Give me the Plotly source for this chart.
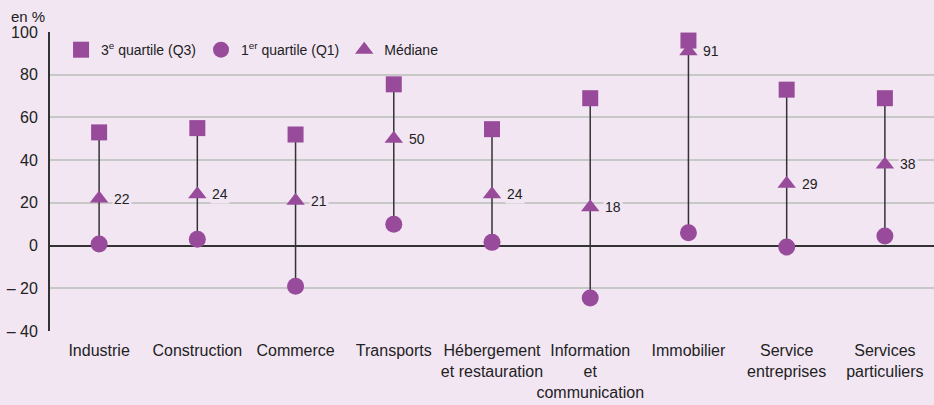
import plotly.graph_objects as go

categories = ["Industrie", "Construction", "Commerce", "Transports",
              "Hébergement<br>et restauration", "Information<br>et<br>communication",
              "Immobilier", "Service<br>entreprises", "Services<br>particuliers"]
q3 = [53, 55, 52, 75.5, 54.5, 69, 96, 73, 69]
q1 = [0.7, 3, -19, 10, 1.5, -24.5, 6, -0.7, 4.5]
median = [22, 24, 21, 50, 24, 18, 91, 29, 38]
ytick_vals = [-40, -20, 0, 20, 40, 60, 80, 100]
ytick_text = ["– 40", "– 20", "0", "20", "40", "60", "80", "100"]

BG = "#F2E6F3"
PURPLE = "#984B9B"
FONT = "Liberation Sans, Arial, sans-serif"

xs = list(range(len(categories)))

seg_x, seg_y = [], []
for i, (a, b) in enumerate(zip(q1, q3)):
    seg_x += [i, i, None]
    seg_y += [a, b, None]

fig = go.Figure()
fig.add_trace(go.Scatter(x=seg_x, y=seg_y, mode="lines",
                         line=dict(color="#333333", width=1.5),
                         showlegend=False, hoverinfo="skip"))
fig.add_trace(go.Scatter(x=xs, y=q3, mode="markers", name="3<sup>e</sup> quartile (Q3)",
                         marker=dict(symbol="square", size=16, color=PURPLE)))
fig.add_trace(go.Scatter(x=xs, y=q1, mode="markers", name="1<sup>er</sup> quartile (Q1)",
                         marker=dict(symbol="circle", size=17, color=PURPLE)))
fig.add_trace(go.Scatter(x=xs, y=median, mode="markers", name="Médiane",
                         marker=dict(symbol="triangle-up", size=16, color=PURPLE)))

for i, m in enumerate(median):
    fig.add_annotation(x=i, y=m, text=str(m), showarrow=False, xanchor="left",
                       xshift=13, bgcolor=BG, borderpad=1,
                       font=dict(family=FONT, size=14, color="#222222"))

fig.add_annotation(xref="paper", yref="paper", x=0, y=1.0, xshift=-41, yshift=16,
                   text="en %", showarrow=False, xanchor="left", yanchor="middle",
                   font=dict(family=FONT, size=15, color="#222222"))

fig.update_layout(
    width=934, height=405,
    paper_bgcolor=BG, plot_bgcolor=BG,
    margin=dict(l=50, r=0, t=32, b=74),
    font=dict(family=FONT, size=15, color="#222222"),
    legend=dict(orientation="h", x=0.0125, y=0.993, xanchor="left", yanchor="top",
                bgcolor="rgba(0,0,0,0)", font=dict(family=FONT, size=14),
                itemwidth=30, tracegroupgap=0),
    xaxis=dict(range=[-0.5, 8.5], tickvals=xs, ticktext=categories, tickangle=0,
               showgrid=False, zeroline=False, showline=False, ticks="",
               ticklabelstandoff=8,
               tickfont=dict(family=FONT, size=16)),
    yaxis=dict(range=[-40, 100], tickvals=ytick_vals, ticktext=ytick_text,
               showgrid=True, gridcolor="#C8C8C8", gridwidth=1.5,
               zeroline=True, zerolinecolor="#333333", zerolinewidth=2,
               showline=True, linecolor="#333333", linewidth=2,
               ticks="", ticklabelstandoff=7,
               tickfont=dict(family=FONT, size=16)),
    showlegend=True,
)

fig.write_html("out.html", config={"displayModeBar": False},
               post_script="document.body.style.margin='0';")
